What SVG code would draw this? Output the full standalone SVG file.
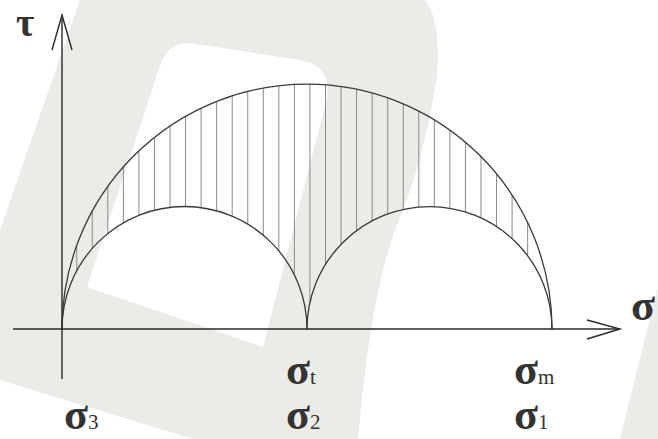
<svg xmlns="http://www.w3.org/2000/svg" width="658" height="439" viewBox="0 0 658 439">
<style>
.wm{fill:#ebebe8;stroke:none}
.ax{stroke:#2a2a2a;stroke-width:1.4;fill:none}
.arc{stroke:#3a3a3a;stroke-width:1.3;fill:none}
.hatch line{stroke:#8a8a8a;stroke-width:1}
.lbl{font-family:"Liberation Serif","Times New Roman",serif;fill:#333;font-size:44px;font-weight:bold}
.sub{font-size:21px;font-weight:normal}
</style>
<rect width="658" height="439" fill="#ffffff"/>
<g id="watermark">
<path class="wm" d="M80,0 L425,0 Q441,20 437,75 Q425,160 395,230 Q370,300 358,439 L193,439 L0,380 L0,230 Z"/>
<path fill="#ffffff" d="M190,43 L300,60 Q332,66 327,98 L263,347 L87,287 L160,66 Q168,42 190,43 Z"/>
<path class="wm" d="M620,439 L658,287 L658,439 Z"/>
</g>
<g id="hatching" class="hatch">
<line x1="76.7" y1="245.4" x2="76.7" y2="270.8"/>
<line x1="92.25" y1="211.1" x2="92.25" y2="248.4"/>
<line x1="107.8" y1="186.4" x2="107.8" y2="233.5"/>
<line x1="123.35" y1="166.8" x2="123.35" y2="222.9"/>
<line x1="138.9" y1="150.8" x2="138.9" y2="215.3"/>
<line x1="154.45" y1="137.3" x2="154.45" y2="210.2"/>
<line x1="170" y1="125.9" x2="170" y2="207.4"/>
<line x1="185.55" y1="116.2" x2="185.55" y2="206.5"/>
<line x1="201.1" y1="108.1" x2="201.1" y2="207.6"/>
<line x1="216.65" y1="101.3" x2="216.65" y2="210.8"/>
<line x1="232.2" y1="95.7" x2="232.2" y2="216.2"/>
<line x1="247.75" y1="91.3" x2="247.75" y2="224.1"/>
<line x1="263.3" y1="87.9" x2="263.3" y2="235.2"/>
<line x1="278.85" y1="85.6" x2="278.85" y2="250.9"/>
<line x1="294.4" y1="84.3" x2="294.4" y2="274.9"/>
<line x1="309.95" y1="84" x2="309.95" y2="302.3"/>
<line x1="325.5" y1="84.7" x2="325.5" y2="264.3"/>
<line x1="341.05" y1="86.4" x2="341.05" y2="244.2"/>
<line x1="356.6" y1="89.1" x2="356.6" y2="230.6"/>
<line x1="372.15" y1="92.8" x2="372.15" y2="220.8"/>
<line x1="387.7" y1="97.7" x2="387.7" y2="213.9"/>
<line x1="403.25" y1="103.7" x2="403.25" y2="209.3"/>
<line x1="418.8" y1="111" x2="418.8" y2="207"/>
<line x1="434.35" y1="119.7" x2="434.35" y2="206.6"/>
<line x1="449.9" y1="130" x2="449.9" y2="208.2"/>
<line x1="465.45" y1="142.1" x2="465.45" y2="211.9"/>
<line x1="481" y1="156.5" x2="481" y2="217.9"/>
<line x1="496.55" y1="173.8" x2="496.55" y2="226.5"/>
<line x1="512.1" y1="195" x2="512.1" y2="238.5"/>
<line x1="527.65" y1="222.5" x2="527.65" y2="255.7"/>
</g>
<g id="circles">
<path class="arc" d="M62,329 A245,245 0 0 1 552,329"/>
<path class="arc" d="M62,329 A122.5,122.5 0 0 1 307,329"/>
<path class="arc" d="M307,329 A122.5,122.5 0 0 1 552,329"/>
</g>
<g id="axes">
<line class="ax" x1="62" y1="15" x2="62" y2="379"/>
<polyline class="ax" points="52,50 62,15 72,50"/>
<line class="ax" x1="13" y1="329" x2="620" y2="329"/>
<polyline class="ax" points="587,320 620,329 587,339"/>
</g>
<g id="labels" class="lbl">
<text id="tau" x="16" y="36" style="font-size:40px">τ</text>
<text id="sigma-axis" x="631" y="320">σ</text>
<text id="sigma3" x="64" y="429">σ<tspan class="sub">3</tspan></text>
<text id="sigmat" x="286" y="384">σ<tspan class="sub">t</tspan></text>
<text id="sigma2" x="286" y="429">σ<tspan class="sub">2</tspan></text>
<text id="sigmam" x="514" y="384">σ<tspan class="sub">m</tspan></text>
<text id="sigma1" x="514" y="429">σ<tspan class="sub">1</tspan></text>
</g>
</svg>
